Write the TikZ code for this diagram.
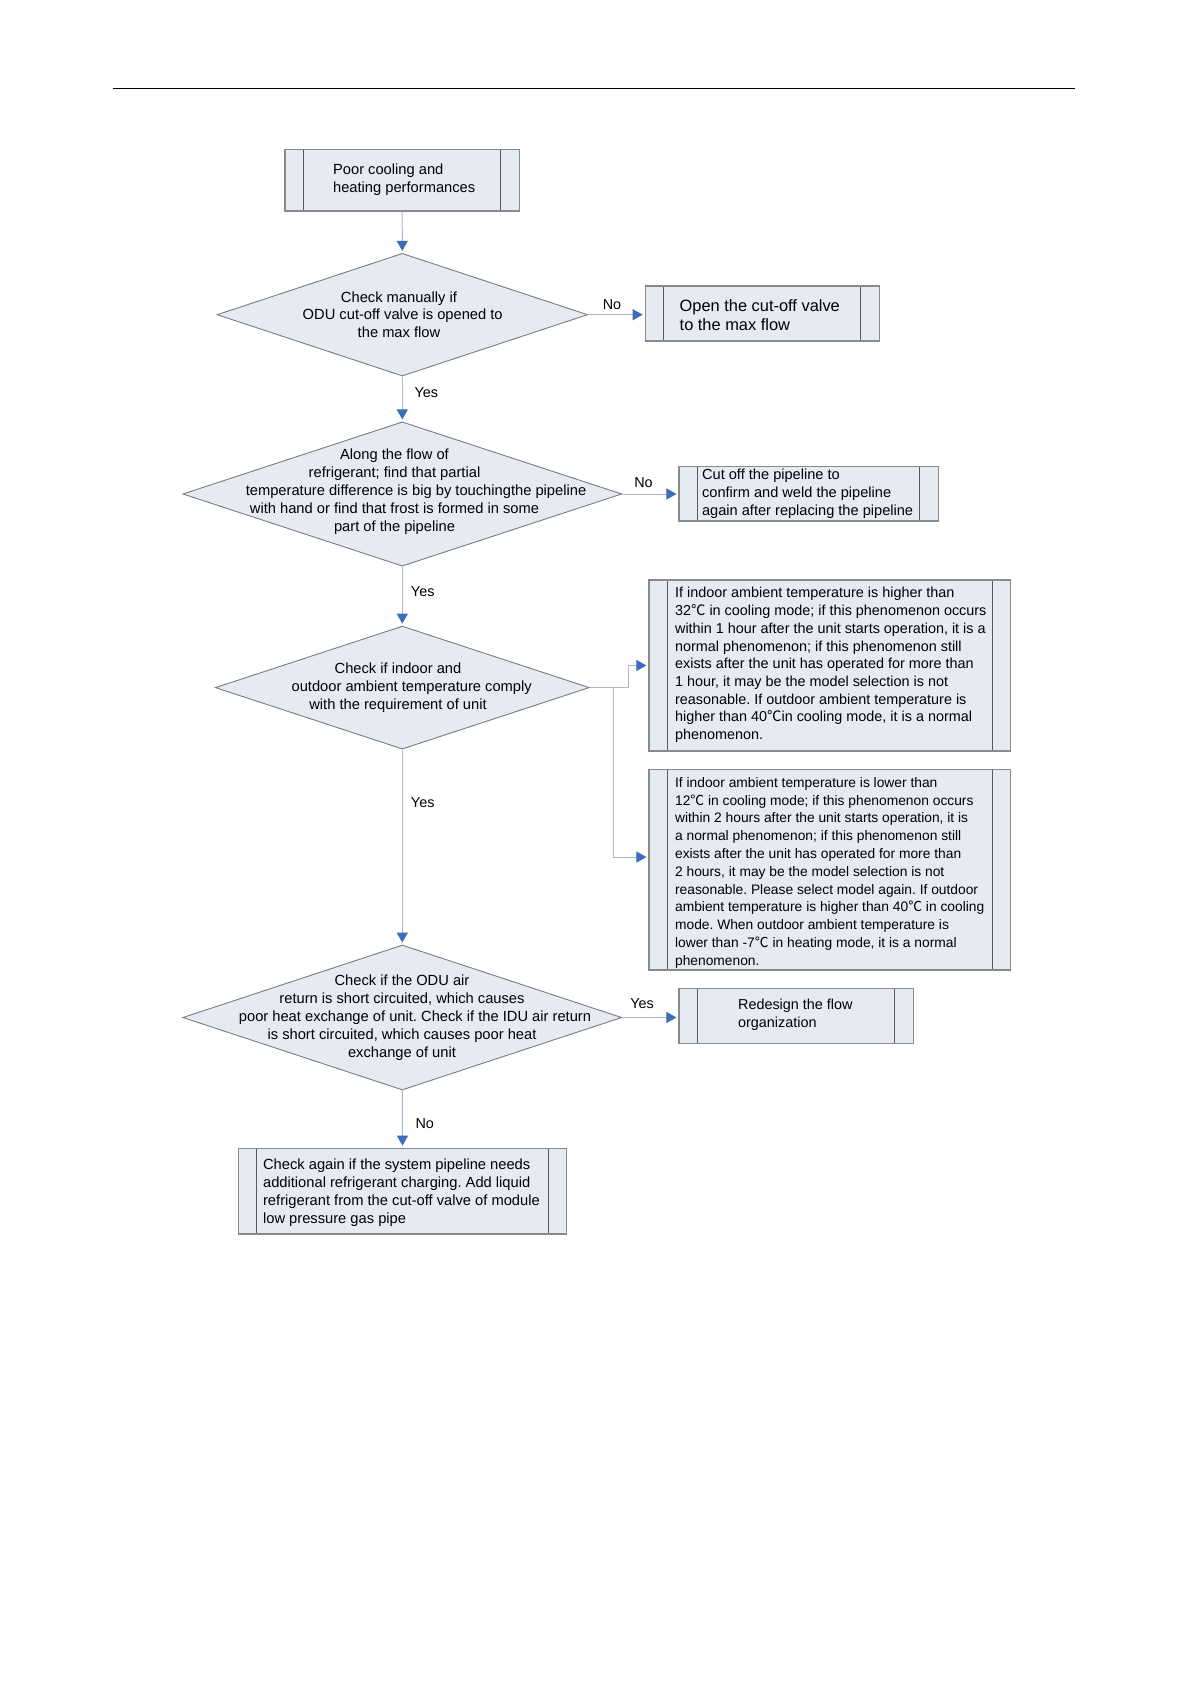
\documentclass[tikz,border=0pt]{standalone}
\usepackage{fontspec}
\setmainfont{Liberation Sans}
\newfontfamily\cjk{Noto Sans CJK SC}
\usetikzlibrary{arrows.meta,shapes.geometric,calc}
\definecolor{boxfill}{HTML}{E6EAF3}
\definecolor{boxline}{HTML}{8A8A8A}
\definecolor{innerl}{HTML}{5A5A5A}
\definecolor{connl}{HTML}{A9B6CE}
\definecolor{arrowblue}{HTML}{3D6CB8}
\newcommand{\degc}{{\cjk ℃}}
\frenchspacing
\tikzset{
  proc/.style={draw=boxline, fill=boxfill, line width=0.6pt, inner sep=0pt,
    path picture={
      \draw[innerl, line width=0.6pt] ([xshift=9.25pt]path picture bounding box.north west) -- ([xshift=9.25pt]path picture bounding box.south west);
      \draw[innerl, line width=0.6pt] ([xshift=-9.25pt]path picture bounding box.north east) -- ([xshift=-9.25pt]path picture bounding box.south east);
    }},
  dia/.style={diamond, draw=boxline!90!black, fill=boxfill, line width=0.45pt, inner sep=0pt},
  btext/.style={align=left, inner sep=0pt, anchor=west, yshift=-0.5pt, font=\fontsize{7.2}{8.85}\selectfont},
  dtext/.style={align=center, inner sep=0pt, yshift=-0.5pt, font=\fontsize{7.35}{8.95}\selectfont},
  lbl/.style={inner sep=0pt, font=\fontsize{7.2}{8.6}\selectfont},
  conn/.style={draw=connl, line width=0.5pt, shorten >=1pt, -{Triangle[length=5pt,width=5.5pt,color=arrowblue,fill=arrowblue]}}
}
\begin{document}
\begin{tikzpicture}[x=0.5pt,y=-0.5pt]
\useasboundingbox[fill=white] (0,0) rectangle (1191,1684);
% header rule
\draw[line width=0.5pt] (113,89) -- (1075,89);

% boxes
\node[proc, minimum width=117.15pt, minimum height=30.85pt] (B1) at (402.2,180.2) {};
\node[proc, minimum width=117pt, minimum height=27.5pt] (B2) at (762.3,313.5) {};
\node[proc, minimum width=129.65pt, minimum height=27.15pt] (B3) at (808.7,493.8) {};
\node[proc, minimum width=180.85pt, minimum height=85.5pt] (B4) at (829.85,665.5) {};
\node[proc, minimum width=180.85pt, minimum height=100.15pt] (B5) at (829.85,869.85) {};
\node[proc, minimum width=117.15pt, minimum height=27.5pt] (B6) at (796.15,1015.8) {};
\node[proc, minimum width=164.2pt, minimum height=42.85pt] (B7) at (402.5,1191.15) {};

% diamonds
\node[dia, minimum width=185.3pt, minimum height=61.35pt] (D1) at (402.3,314.7) {};
\node[dia, minimum width=219.5pt, minimum height=72.15pt] (D2) at (402.3,494) {};
\node[dia, minimum width=187pt, minimum height=61.5pt] (D3) at (402.3,687.6) {};
\node[dia, minimum width=219.5pt, minimum height=72.5pt] (D4) at (402.3,1017.5) {};

% texts
\node[btext, font=\fontsize{7.35}{8.85}\selectfont] (T1) at (332.7,178.9) {Poor cooling and\\heating performances};
\node[btext, font=\fontsize{8.2}{9.85}\selectfont] (T2) at (679.3,314.2) {Open the cut-off valve\\to the max flow};
\node[btext, font=\fontsize{7.3}{8.95}\selectfont] (T3) at (701.7,493.1) {Cut off the pipeline to\\confirm and weld the pipeline\\again after replacing the pipeline};
\node[btext] (T4) at (674.7,664) {If indoor ambient temperature is higher than\\
32\degc{} in cooling mode; if this phenomenon occurs\\
within 1 hour after the unit starts operation, it is a\\
normal phenomenon; if this phenomenon still\\
exists after the unit has operated for more than\\
1 hour, it may be the model selection is not\\
reasonable. If outdoor ambient temperature is\\
higher than 40\degc in cooling mode, it is a normal\\
phenomenon.};
\node[btext, font=\fontsize{6.9}{8.9}\selectfont] (T5) at (674.7,871.7) {If indoor ambient temperature is lower than\\
12\degc{} in cooling mode; if this phenomenon occurs\\
within 2 hours after the unit starts operation, it is\\
a normal phenomenon; if this phenomenon still\\
exists after the unit has operated for more than\\
2 hours, it may be the model selection is not\\
reasonable. Please select model again. If outdoor\\
ambient temperature is higher than 40\degc{} in cooling\\
mode. When outdoor ambient temperature is\\
lower than -7\degc{} in heating mode, it is a normal\\
phenomenon.};
\node[btext] (T6) at (737.7,1013.5) {Redesign the flow\\organization};
\node[btext, font=\fontsize{7.35}{8.95}\selectfont] (T7) at (262.7,1191.9) {Check again if the system pipeline needs\\additional refrigerant charging. Add liquid\\refrigerant from the cut-off valve of module\\low pressure gas pipe};

\node[dtext] (TD1) at (399,313.7) {Check manually if\\\hspace*{3.7pt}ODU cut-off valve is opened to\\the max flow};
\node[dtext] (TD2) at (394.5,490.8) {Along the flow of\\refrigerant; find that partial\\\hspace*{21.5pt}temperature difference is big by touchingthe pipeline\\with hand or find that frost is formed in some\\part of the pipeline};
\node[dtext] (TD3) at (398,686.7) {Check if indoor and\\\hspace*{13.7pt}outdoor ambient temperature comply\\with the requirement of unit};
\node[dtext] (TD4) at (402,1016.8) {Check if the ODU air\\return is short circuited, which causes\\\hspace*{13pt}poor heat exchange of unit. Check if the IDU air return\\is short circuited, which causes poor heat\\exchange of unit};

% connectors
\draw[conn] (B1.south) -- (D1.north);
\draw[conn] (D1.east) -- (D1.east -| B2.west);
\draw[conn] (D1.south) -- (D2.north);
\draw[conn] (D2.east) -- (D2.east -| B3.west);
\draw[conn] (D2.south) -- (D3.north);
\draw[conn] (D3.east) -- ++(39,0) |- (B4.west);
\draw[conn] ([xshift=12pt]D3.east) |- ([yshift=6.4pt]B5.west);
\draw[conn] (D3.south) -- (D4.north);
\draw[conn] (D4.east) -- (D4.east -| B6.west);
\draw[conn] (D4.south) -- (B7.north);

% labels
\node[lbl] (L1) at (612,305) {No};
\node[lbl] (L2) at (426.3,392.3) {Yes};
\node[lbl] (L3) at (643.5,482.7) {No};
\node[lbl] (L4) at (422.7,591.3) {Yes};
\node[lbl] (L5) at (422.7,802.3) {Yes};
\node[lbl] (L6) at (642,1003.3) {Yes};
\node[lbl] (L7) at (424.8,1124) {No};
\end{tikzpicture}
\end{document}
